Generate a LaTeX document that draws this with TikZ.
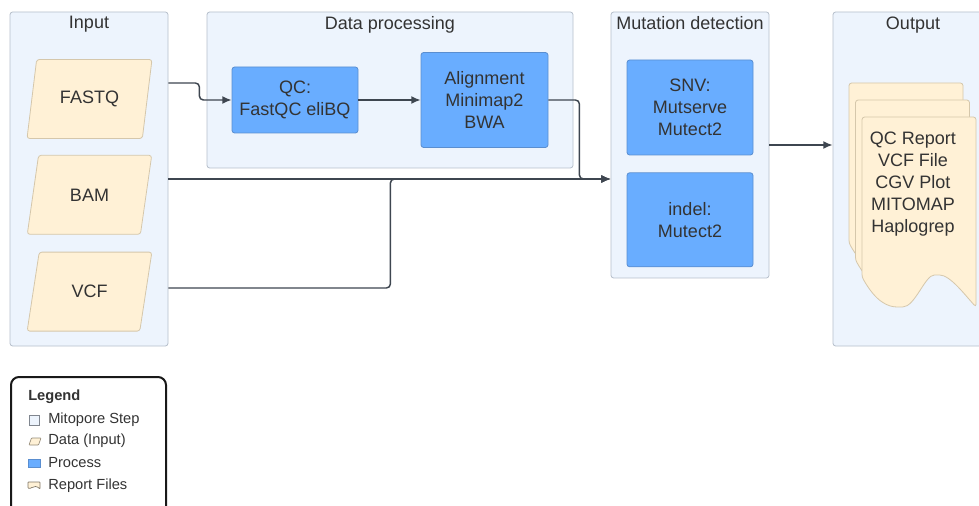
\documentclass[tikz,border=0pt]{standalone}
\usepackage{fontspec}
\setmainfont{Liberation Sans}
\usetikzlibrary{positioning, arrows.meta, shapes.geometric}
\definecolor{stepFill}{HTML}{EDF4FD}
\definecolor{stepLine}{HTML}{B7C0CC}
\definecolor{dataFill}{HTML}{FFF1D6}
\definecolor{dataLine}{HTML}{D5C7AB}
\definecolor{procFill}{HTML}{69ADFF}
\definecolor{procLine}{HTML}{5A8ED0}
\definecolor{textGrey}{HTML}{333333}
\definecolor{flowGrey}{HTML}{3E4650}
\newlength\pxu
\setlength\pxu{0.75pt}

\tikzset{
  stepbox/.style={draw=stepLine, fill=stepFill, line width=0.6pt, rounded corners=2pt, inner sep=0pt},
  steptitle/.style={text=textGrey, inner sep=2pt},
  databox/.style={trapezium, trapezium left angle=76, trapezium right angle=104,
    trapezium stretches=true, draw=dataLine, fill=dataFill, line width=0.6pt,
    rounded corners=2pt, minimum width=125\pxu, minimum height=79\pxu, text=textGrey},
  procbox/.style={draw=procLine, fill=procFill, line width=0.6pt, rounded corners=2pt,
    minimum width=126\pxu, align=center, text=textGrey},
  doc/.style={draw=dataLine, fill=dataFill, line width=0.6pt, rounded corners=2pt},
  flow/.style={draw=flowGrey, line width=1.1pt, rounded corners=3pt, -{Latex[length=7pt, width=6pt]}},
  legtext/.style={anchor=west, inner sep=0pt, text=textGrey, font=\fontsize{11}{13}\selectfont},
}

\begin{document}
\begin{tikzpicture}[x=0.75pt, y=-0.75pt, font=\fontsize{13.5}{16.5}\selectfont]
  \path[use as bounding box, fill=white] (0,0) rectangle (979,506);

  % steps
  \node[stepbox, minimum width=158\pxu, minimum height=334\pxu] (inp) at (89,179) {};
  \node[steptitle, below=2\pxu of inp.north] (inpT) {Input};
  \node[stepbox, minimum width=366\pxu, minimum height=156\pxu] (dp) at (390,90) {};
  \node[steptitle, below=2\pxu of dp.north] (dpT) {Data processing};
  \node[stepbox, minimum width=158\pxu, minimum height=266\pxu] (mut) at (690,145) {};
  \node[steptitle, below=2\pxu of mut.north] (mutT) {Mutation detection};
  \node[stepbox, minimum width=160\pxu, minimum height=334\pxu] (out) at (913,179) {};
  \node[steptitle, below=2\pxu of out.north] (outT) {Output};

  % input data
  \node[databox] (fastq) at (89.5,99) {FASTQ};
  \node[databox, below=16\pxu of fastq] (bam) {BAM};
  \node[databox, below=17\pxu of bam] (vcf) {VCF};

  % processes
  \node[procbox, minimum height=66\pxu] (qc) at (295,100) {QC:\\FastQC eliBQ};
  \node[procbox, minimum width=127\pxu, minimum height=95\pxu] (aln) at (484.5,100) {Alignment\\Minimap2\\BWA};
  \node[procbox, minimum height=95\pxu] (snv) at (690,107.5) {SNV:\\Mutserve\\Mutect2};
  \node[procbox, minimum height=94\pxu, below=17\pxu of snv] (indel) {indel:\\Mutect2};

  % report files
  \foreach \dx/\dy in {-13/-34, -6.5/-17, 0/0}
    \draw[doc, shift={(\dx,\dy)}] (862,277) -- (862,117) -- (976,117) -- (976,307)
      .. controls (965,295) and (950,275) .. (937,275)
      .. controls (925,275) and (915,307) .. (900,307)
      .. controls (888,307) and (876,302) .. (862,277) -- cycle;
  \node[text=textGrey, align=center] (rep) at (913,184) {QC Report\\VCF File\\CGV Plot\\MITOMAP\\Haplogrep};

  % connectors
  \draw[flow] ([yshift=96\pxu]inp.east) -- ++(31\pxu,0) |- (qc.west);
  \draw[flow] (qc.east) -- (qc.east -| aln.west);
  \draw[flow] (aln.east) -- ++(31\pxu,0) |- (inp.east -| mut.west);
  \draw[flow] (inp.east) -- (inp.east -| mut.west);
  \draw[flow] ([yshift=-109\pxu]inp.east) -| ++(222\pxu,109\pxu) -- (inp.east -| mut.west);
  \draw[flow] (mut.east) -- (mut.east -| out.west);

  % legend
  \node[draw=black!90, line width=1.5pt, rounded corners=6pt, minimum width=155\pxu,
    minimum height=150\pxu, anchor=north west] (leg) at (10,376) {};
  \node[legtext, font=\fontsize{11}{13}\selectfont\bfseries] (legT) at (28,397) {Legend};
  \node[draw=stepLine!70!black, fill=stepFill, line width=0.5pt, minimum width=10\pxu,
    minimum height=10\pxu, inner sep=0pt] (legStep) at (34,420) {};
  \node[legtext] (legStepT) at (48,420) {Mitopore Step};
  \draw[doc, draw=dataLine!70!black, line width=0.5pt, rounded corners=0.5pt]
    (29,445) -- (31.5,438) -- (41,438) -- (38.5,445) -- cycle;
  \node[legtext] (legDataT) at (48,441) {Data (Input)};
  \node[fill=procFill, draw=procLine, line width=0.5pt, minimum width=12\pxu, minimum height=8\pxu,
    inner sep=0pt] (legProc) at (34,463) {};
  \node[legtext] (legProcT) at (48,463) {Process};
  \draw[doc, draw=dataLine!60!black, line width=0.5pt, rounded corners=0.5pt] (28,482) -- (40,482) -- (40,489)
    .. controls (37,486) and (34,486) .. (31,488) .. controls (30,488.5) and (29,488.5) .. (28,488) -- cycle;
  \node[legtext] (legRepT) at (48,486) {Report Files};
\end{tikzpicture}
\end{document}
